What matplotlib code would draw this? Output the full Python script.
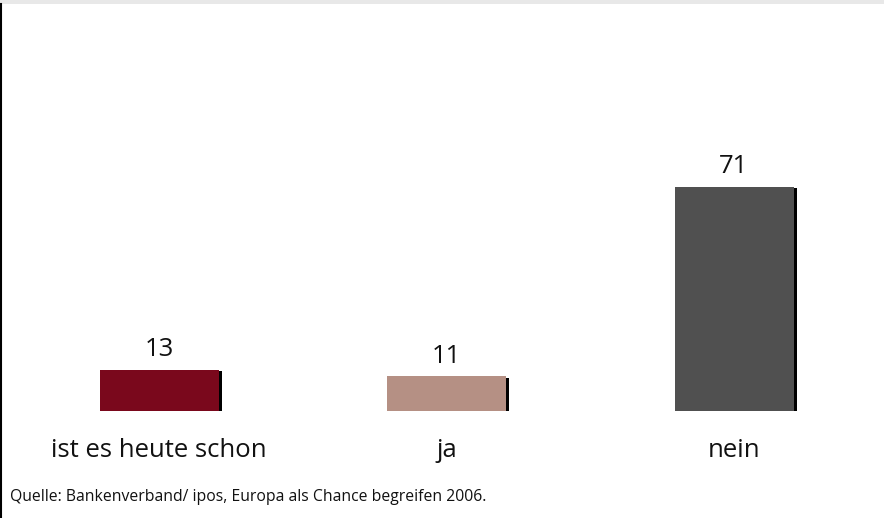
import matplotlib
matplotlib.use("Agg")
import matplotlib.pyplot as plt
import matplotlib.patheffects as pe
from matplotlib.patches import Rectangle
from matplotlib.lines import Line2D

categories = ["ist es heute schon", "ja", "nein"]
values = [13, 11, 71]
colors = ["#7a081c", "#b59084", "#505050"]
source = "Quelle: Bankenverband/ ipos, Europa als Chance begreifen 2006."

plt.rcParams['font.family'] = ['Open Sans', 'DejaVu Sans']

W, H = 884, 518
fig = plt.figure(figsize=(W/100, H/100), dpi=100)
fig.patch.set_facecolor("white")

# top grey band and left line
fig.add_artist(Rectangle((0, (H-4)/H), 1, 4/H, transform=fig.transFigure,
                         facecolor="#e8e8e8", edgecolor="none"))
fig.add_artist(Line2D([0.8/W, 0.8/W], [0, (H-4)/H], transform=fig.transFigure,
                      color="black", linewidth=1.5))

base_px = 411
top_px = 4
ppu = 3.155
ax = fig.add_axes([0, (H-base_px)/H, 1, (base_px-top_px)/H])
ax.set_ylim(0, (base_px-top_px)/ppu)
spacing = 287.5
ax.set_xlim(-159/spacing, (W-159)/spacing)
ax.axis("off")

x = list(range(len(categories)))
bars = ax.bar(x, values, width=119/spacing, color=colors, zorder=3)
for b in bars:
    b.set_path_effects([pe.SimplePatchShadow(offset=(2.2, -1.0), shadow_rgbFace="black", alpha=1.0), pe.Normal()])

for xi, v in zip(x, values):
    ax.annotate(str(v), (xi, v), xytext=(0, 14.5), textcoords="offset points",
                ha="center", va="center", fontsize=18.5, color="#111111")
    ax.annotate(categories[xi], (xi, 0), xytext=(0, -28.5), textcoords="offset points",
                ha="center", va="center", fontsize=18.5, color="#111111")

fig.text(10/W, 1 - 497/H, source, ha="left", va="center", fontsize=11.3, color="#111111")

fig.savefig("out.png", dpi=100, facecolor="white")
